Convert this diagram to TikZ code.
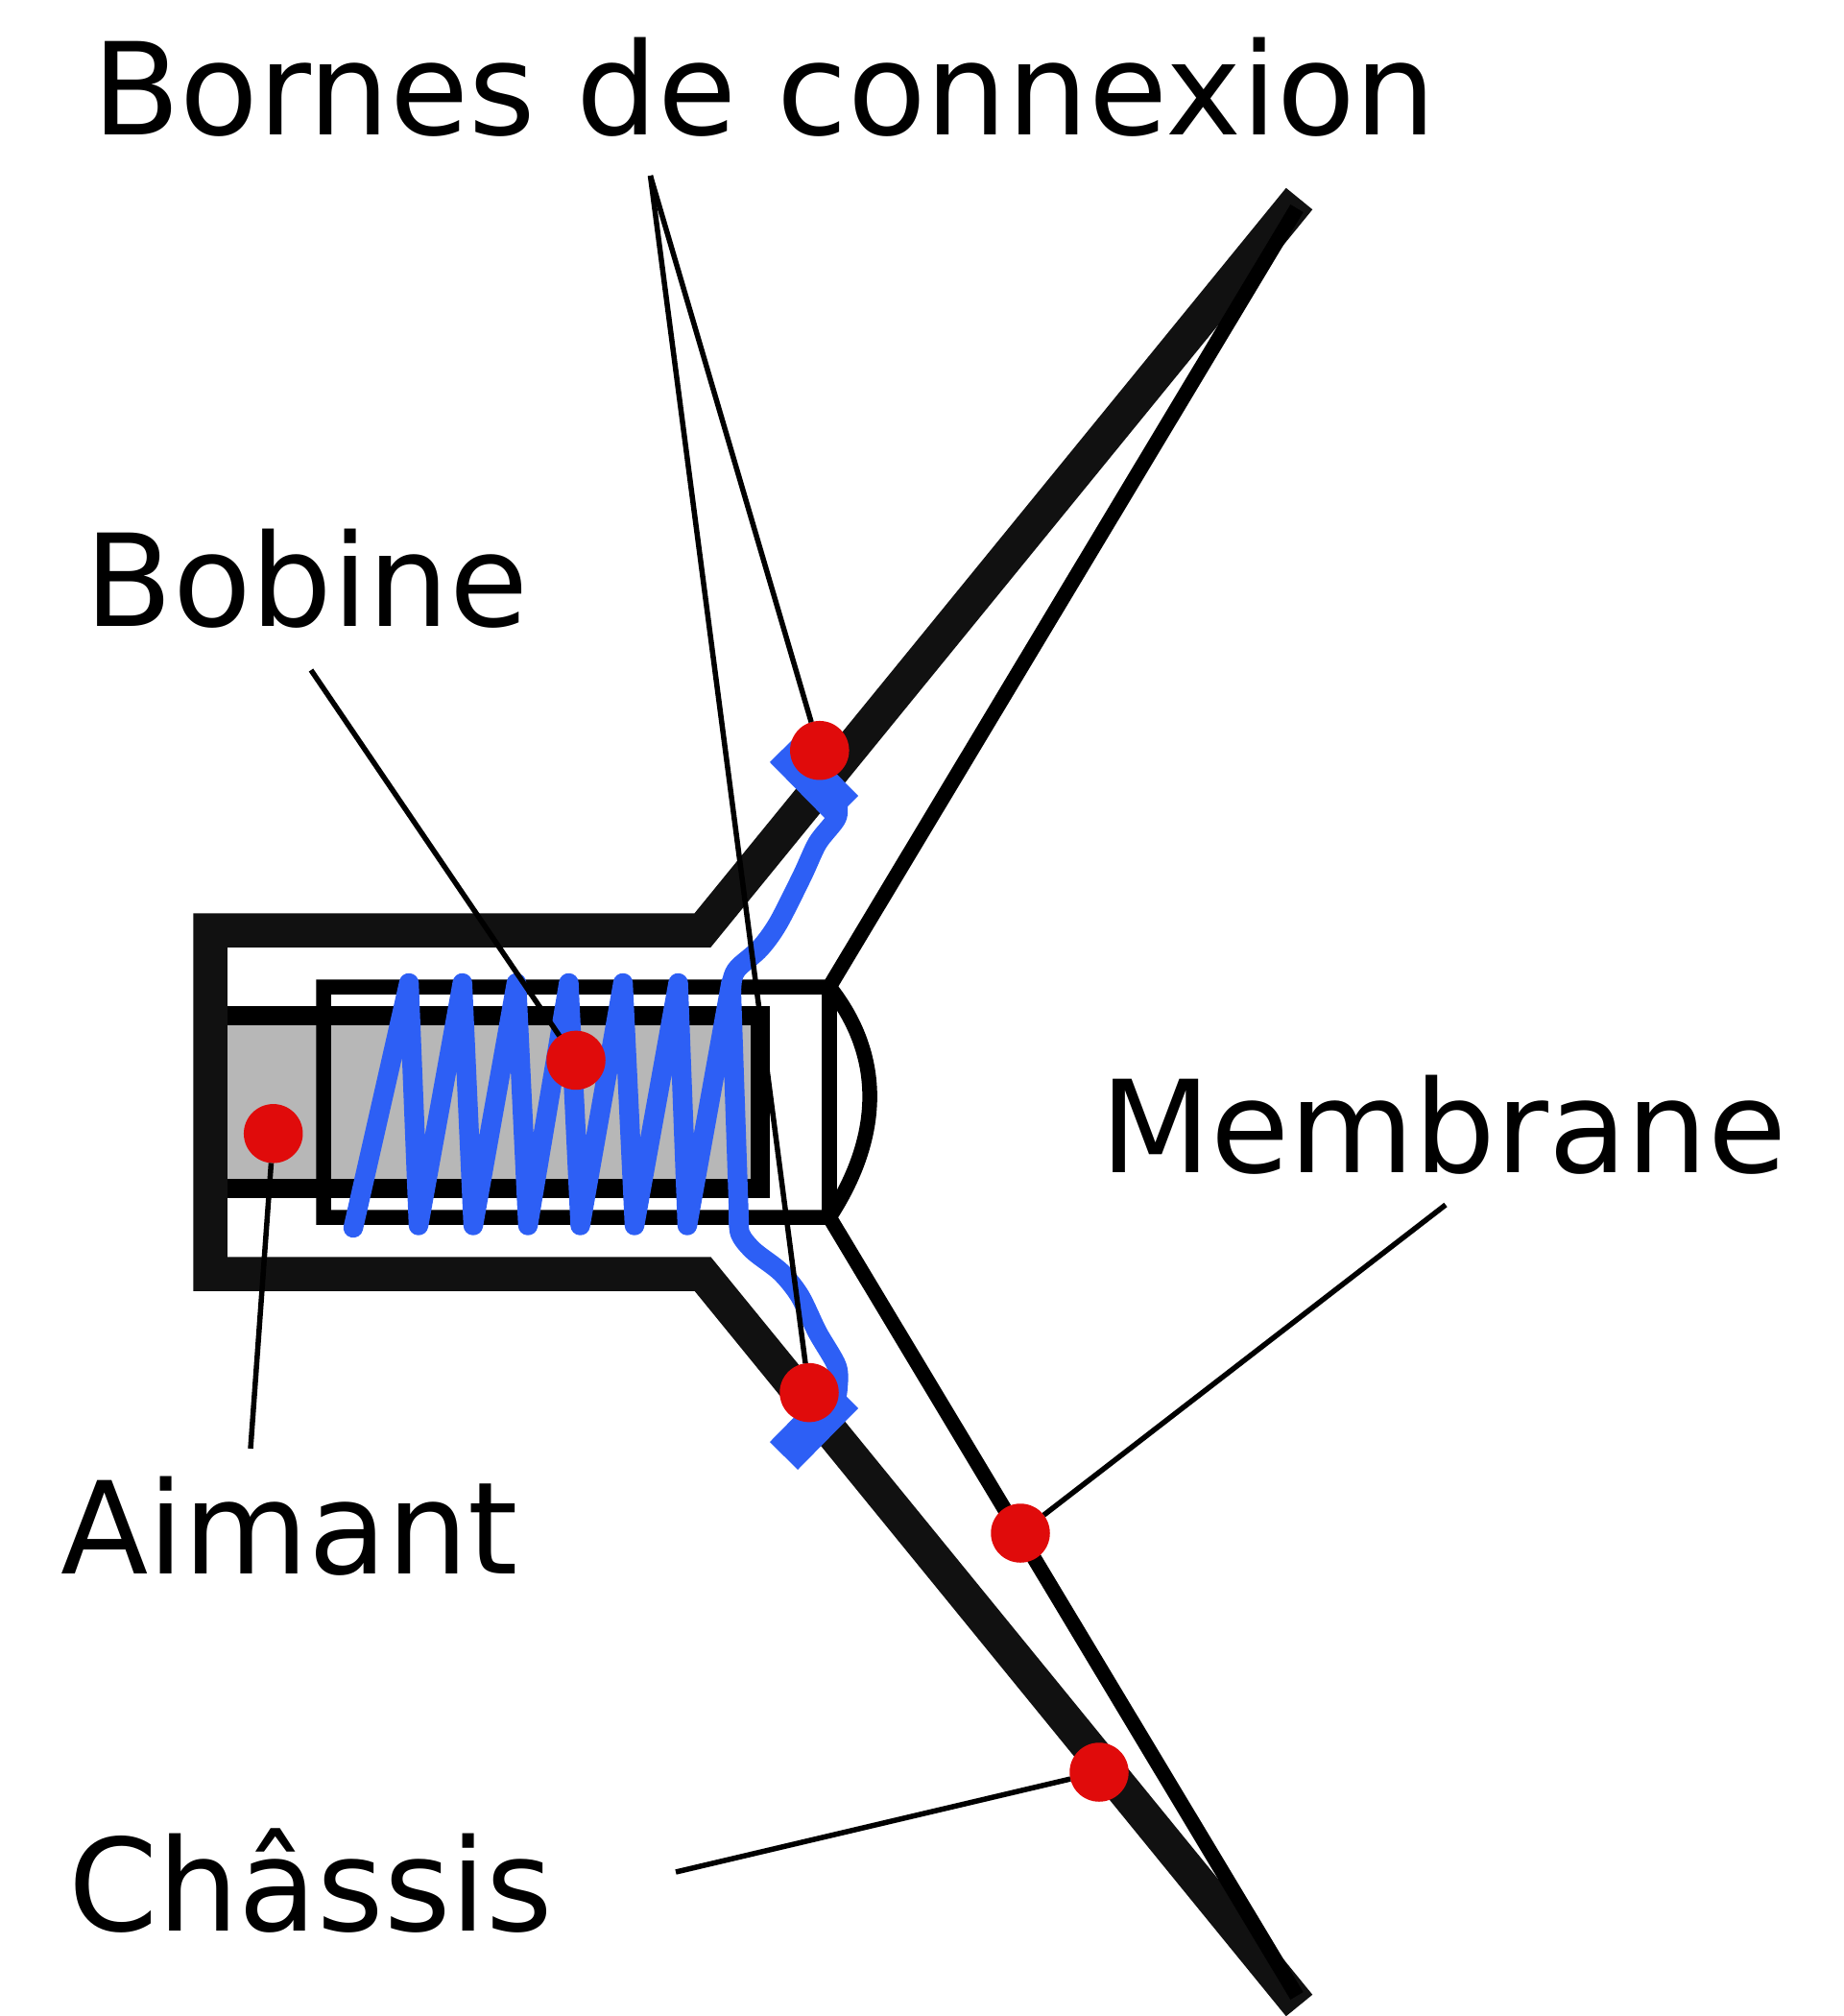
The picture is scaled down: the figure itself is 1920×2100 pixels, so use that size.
\documentclass[tikz,border=0pt]{standalone}
\usepackage{fontspec}
\setmainfont{DejaVu Sans}
\definecolor{chassisblack}{HTML}{111111}
\definecolor{aimantgrey}{HTML}{B7B7B7}
\definecolor{coilblue}{HTML}{2D5FF5}
\definecolor{dotred}{HTML}{E00B0B}
\tikzset{
  lbl/.style={inner sep=0pt,outer sep=0pt,anchor=base west,font=\fontsize{133.5}{133.5}\selectfont},
  reddot/.style={circle,fill=dotred,minimum size=61.5pt,inner sep=0pt,outer sep=0pt},
  leader/.style={draw=black,line width=5.5pt},
  wire/.style={draw=coilblue,line width=20.5pt,line cap=round,line join=round},
  borne/.style={draw=coilblue,line width=41pt}
}
\begin{document}
\begin{tikzpicture}[x=1pt,y=-1pt]
\useasboundingbox (0,0) rectangle (1920,2100);

% aimant
\draw[fill=aimantgrey,line width=20pt,miter limit=10]
(219,1058) -- (792,1058) -- (792,1237.5) -- (219,1237.5);

% chassis
\draw[draw=chassisblack,line width=35.5pt]
(1353.5,207) -- (732,969) -- (219,969) -- (219,1327) -- (732,1327) -- (1353.5,2089);

% membrane
\draw[line width=15.5pt]
(1351,217) -- (864,1028) -- (337,1028) -- (337,1268) -- (864,1268) -- (1351,2079);
\draw[line width=15.5pt] (864,1028) -- (864,1268);
\draw[line width=15.5pt] (864,1028) .. controls (925,1105) and (915,1190) .. (864,1268);

% bornes
\draw[borne] (816.5,779.5) -- (879.5,843.5);
\draw[borne] (816.5,1516.5) -- (879.5,1452.5);

% fils
\draw[wire] plot[smooth] coordinates {(761.7,1036) (763,1020) (769,1008) (791.7,988) (810.7,961.7) (836,911.7) (851.7,878) (871.7,851.7) (871.7,833)};
\draw[wire] plot[smooth] coordinates {(769.3,1262) (771,1285) (785,1303) (813.3,1325) (833.3,1350) (851.7,1388) (871.7,1423) (872.7,1446.7) (870,1460)};

% bobine
\draw[wire]
(368,1279) -- (426,1024) -- (436,1276.5) -- (481.7,1024) -- (493,1276.5) -- (538,1024)
-- (550,1276.5) -- (592.5,1024) -- (604.5,1276.5) -- (649,1024) -- (661,1276.5) -- (706.5,1024)
-- (716,1276.5) -- (761.5,1024) -- (770,1276);

\node[reddot] (dotborneh) at (853.8,781.7) {};
\node[reddot] (dotborneb) at (843,1450.6) {};
\node[reddot] (dotbobine) at (600,1104.4) {};
\node[reddot] (dotaimant) at (284.7,1180.8) {};
\node[reddot] (dotmembrane) at (1063,1597) {};
\node[reddot] (dotchassis) at (1145,1846) {};

\coordinate (bornes) at (677.5,183);
\coordinate (bobine) at (324,698);
\coordinate (aimant) at (261,1509);
\coordinate (membrane) at (1506,1255);
\coordinate (chassis) at (704,1950);

\draw[leader] (bornes) -- (dotborneh);
\draw[leader] (bornes) -- (dotborneb);
\draw[leader] (bobine) -- (dotbobine);
\draw[leader] (aimant) -- (dotaimant);
\draw[leader] (membrane) -- (dotmembrane);
\draw[leader] (chassis) -- (dotchassis);

\node[lbl] (lblbornes) at (96,140.6) {Bornes de connexion};
\node[lbl] (lblbobine) at (88.5,652) {Bobine};
\node[lbl] (lblmembrane) at (1146,1221) {Membrane};
\node[lbl] (lblaimant) at (63,1639) {Aimant};
\node[lbl] (lblchassis) at (71,2011) {Châssis};

\end{tikzpicture}
\end{document}
